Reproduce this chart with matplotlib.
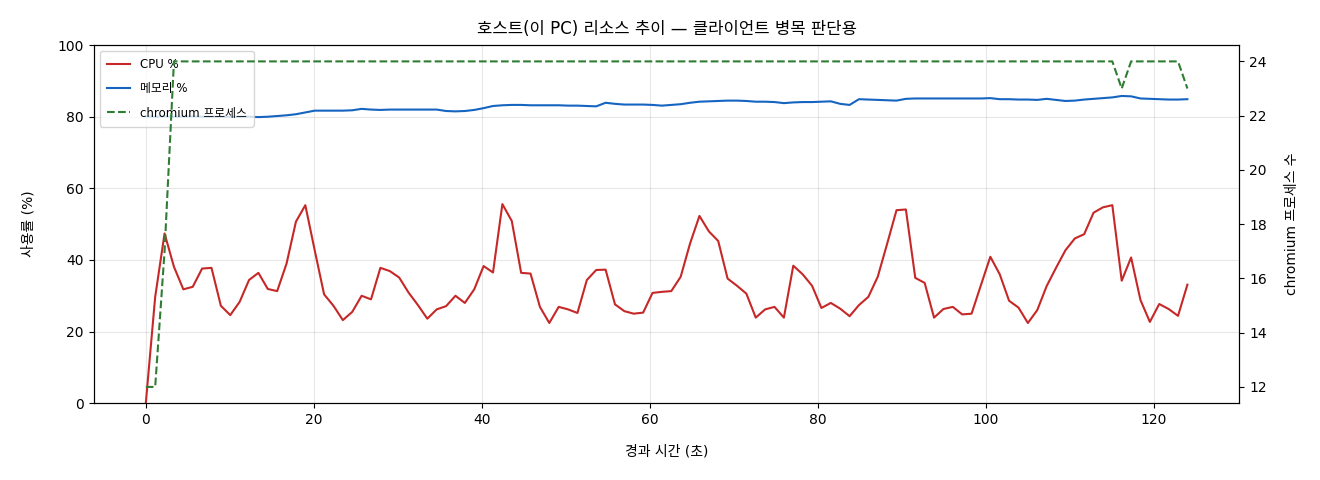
import numpy as np
import matplotlib
matplotlib.use('Agg')
import matplotlib.pyplot as plt

plt.rcParams['font.family'] = ['DejaVu Sans', 'Noto Sans CJK KR']
plt.rcParams['axes.unicode_minus'] = False

cpu = [0.0, 29.7, 47.4, 38.1, 31.8, 32.5, 37.6, 37.8, 27.2, 24.6,
       28.3, 34.4, 36.4, 31.9, 31.3, 39.0, 50.7, 55.3, 42.7, 30.4,
       27.2, 23.2, 25.5, 30.0, 29.0, 37.8, 36.9, 35.1, 30.9, 27.4,
       23.6, 26.2, 27.1, 30.0, 28.0, 31.8, 38.3, 36.5, 55.6, 50.9,
       36.4, 36.2, 26.9, 22.4, 26.9, 26.2, 25.2, 34.4, 37.2, 37.3,
       27.6, 25.7, 25.0, 25.3, 30.8, 31.1, 31.3, 35.3, 44.6, 52.3,
       48.0, 45.3, 34.8, 32.8, 30.6, 23.9, 26.2, 26.9, 23.9, 38.4,
       36.0, 32.8, 26.6, 28.0, 26.4, 24.3, 27.4, 29.7, 35.3, 44.5,
       53.9, 54.1, 35.0, 33.6, 23.9, 26.3, 26.9, 24.8, 25.0, 33.0,
       40.9, 36.0, 28.6, 26.7, 22.4, 26.0, 32.7, 37.8, 42.7, 46.0,
       47.2, 53.2, 54.7, 55.3, 34.2, 40.7, 28.8, 22.7, 27.7, 26.3,
       24.4, 33.1]

mem = [80.1, 80.0, 80.1, 80.0, 80.0, 80.1, 80.0, 80.0, 80.0, 80.0,
       80.0, 80.0, 79.9, 80.0, 80.2, 80.4, 80.7, 81.2, 81.7, 81.7,
       81.7, 81.7, 81.8, 82.2, 82.0, 81.9, 82.0, 82.0, 82.0, 82.0,
       82.0, 82.0, 81.6, 81.5, 81.6, 81.9, 82.4, 83.0, 83.2, 83.3,
       83.3, 83.2, 83.2, 83.2, 83.2, 83.1, 83.1, 83.0, 82.9, 83.9,
       83.6, 83.4, 83.4, 83.4, 83.3, 83.1, 83.3, 83.5, 83.9, 84.2,
       84.3, 84.4, 84.5, 84.5, 84.4, 84.2, 84.2, 84.1, 83.8, 84.0,
       84.1, 84.1, 84.2, 84.3, 83.6, 83.3, 84.9, 84.8, 84.7, 84.6,
       84.5, 85.0, 85.1, 85.1, 85.1, 85.1, 85.1, 85.1, 85.1, 85.1,
       85.2, 84.9, 84.9, 84.8, 84.8, 84.7, 85.0, 84.7, 84.4, 84.5,
       84.8, 85.0, 85.2, 85.4, 85.8, 85.7, 85.1, 85.0, 84.9, 84.8,
       84.8, 84.9]

chromium = [12, 12, 17] + [24] * 101 + [23] + [24] * 6 + [23]

t = np.linspace(0, 124, len(cpu))

fig, ax = plt.subplots(figsize=(13.2, 4.8), dpi=100)
fig.subplots_adjust(left=0.071, right=0.939, top=0.906, bottom=0.16)

l1, = ax.plot(t, cpu, color='#c62828', lw=1.5, label='CPU %')
l2, = ax.plot(t, mem, color='#1565c0', lw=1.5, label='메모리 %')
ax.set_ylim(0, 100)
ax.set_ylabel('사용률 (%)', labelpad=16)
ax.set_xlabel('경과 시간 (초)', labelpad=13)
ax.grid(True, alpha=0.3)

ax2 = ax.twinx()
l3, = ax2.plot(t, chromium, color='#2e7d32', lw=1.5, ls='--', label='chromium 프로세스')
ax2.set_ylabel('chromium 프로세스 수', labelpad=13)

ax.legend(handles=[l1, l2, l3], loc='upper left', fontsize=8.5,
          labelspacing=0.95, borderpad=0.6)
ax.set_title('호스트(이 PC) 리소스 추이 — 클라이언트 병목 판단용', fontsize=12, pad=8)

fig.savefig('out.png')
